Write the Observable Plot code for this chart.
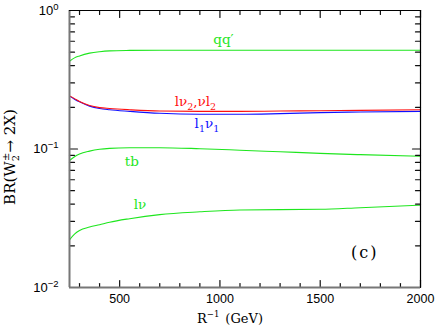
<!DOCTYPE html>
<html><head><meta charset="utf-8">
<script src="https://cdn.jsdelivr.net/npm/d3@7"></script>
<script src="https://cdn.jsdelivr.net/npm/@observablehq/plot@0.6"></script>
<style>body{margin:0;background:#fff}svg{display:block}</style>
</head><body><div id="chart"></div>
<script>
// R^-1 (GeV) sample points
const mass = [250, 275, 300, 350, 400, 450, 550, 700, 900, 1100, 1300, 1500, 1700, 2000];
// branching ratios
const brQQ    = [0.430, 0.455, 0.470, 0.492, 0.504, 0.511, 0.515, 0.517, 0.517, 0.517, 0.517, 0.517, 0.517, 0.517];
const brLnu2  = [0.242, 0.231, 0.220, 0.206, 0.199, 0.196, 0.192, 0.188, 0.187, 0.187, 0.188, 0.189, 0.190, 0.192];
const brL1nu1 = [0.241, 0.229, 0.219, 0.204, 0.196, 0.192, 0.187, 0.181, 0.178, 0.178, 0.180, 0.183, 0.185, 0.187];
const brTB    = [0.0826, 0.088, 0.092, 0.0965, 0.0995, 0.101, 0.102, 0.1022, 0.1005, 0.098, 0.0955, 0.093, 0.091, 0.0887];
const brLnu   = [0.0221, 0.0243, 0.0258, 0.0273, 0.0284, 0.0296, 0.0314, 0.0336, 0.0352, 0.0363, 0.0365, 0.0367, 0.0377, 0.0393];

const xTickLabels = [500, 1000, 1500, 2000];
const yTickValues = [1, 0.1, 0.01];
const yTickExponents = ["0", "\u22121", "\u22122"];

const W = 436, H = 329, mL = 69, mR = 16, mT = 10, mB = 42;
const iw = W - mL - mR, ih = H - mT - mB;
const GREEN = "#1ee61e", RED = "#ff1010", BLUE = "#1010ff";
const X0 = 250, X1 = 2000, Y0 = 0.01, Y1 = 1;

const xMinor = d3.range(300, 2001, 100).filter(v => v % 500 !== 0);
const yMinor = [];
for (const d of [0.01, 0.1]) for (let k = 2; k <= 9; k++) yMinor.push(+(d * k).toPrecision(3));

// inward tick segments, lengths in pixels converted to offsets along each scale
const dxPx = px => px * (X1 - X0) / iw;
const yFac = px => Math.pow(Y1 / Y0, px / ih);
const segs = [];
let sid = 0;
const addSeg = (xa, ya, xb, yb) => { sid++; segs.push({x: xa, y: ya, id: sid}, {x: xb, y: yb, id: sid}); };
for (const [vals, len] of [[yTickValues, 8], [yMinor, 5]]) for (const v of vals) {
  addSeg(X0, v, X0 + dxPx(len), v);
  addSeg(X1 - dxPx(len), v, X1, v);
}
for (const [vals, len] of [[xTickLabels, 7], [xMinor, 4]]) for (const v of vals) {
  addSeg(v, Y0, v, Y0 * yFac(len));
  addSeg(v, Y1 / yFac(len), v, Y1);
}

const rowsOf = vals => mass.map((m, i) => ({m, v: vals[i]}));

const chart = Plot.plot({
  width: W, height: H,
  marginLeft: mL, marginRight: mR, marginTop: mT, marginBottom: mB,
  style: {fontFamily: "'Liberation Sans', Arial, sans-serif", fontSize: "12.5px", background: "#fff", color: "#000"},
  x: {domain: [X0, X1], label: null},
  y: {type: "log", domain: [Y0, Y1], label: null},
  marks: [
    Plot.axisX({ticks: xTickLabels, tickSize: 0, tickPadding: 7, tickFormat: d => String(d), label: null}),
    Plot.axisY({ticks: yTickValues, tickSize: 0, tickPadding: 11,
      tickFormat: d => "10|" + yTickExponents[yTickValues.indexOf(d)], label: null}),
    Plot.lineY(rowsOf(brQQ), {x: "m", y: "v", stroke: GREEN, strokeWidth: 1.1, curve: "monotone-x"}),
    Plot.lineY(rowsOf(brTB), {x: "m", y: "v", stroke: GREEN, strokeWidth: 1.1, curve: "monotone-x"}),
    Plot.lineY(rowsOf(brLnu), {x: "m", y: "v", stroke: GREEN, strokeWidth: 1.1, curve: "monotone-x"}),
    Plot.lineY(rowsOf(brL1nu1), {x: "m", y: "v", stroke: BLUE, strokeWidth: 1.1, curve: "monotone-x"}),
    Plot.lineY(rowsOf(brLnu2), {x: "m", y: "v", stroke: RED, strokeWidth: 1.1, curve: "monotone-x"}),
    Plot.line(segs, {x: "x", y: "y", z: "id", stroke: "#111", strokeWidth: 1.2}),
    Plot.ruleX([X0], {stroke: "#777", strokeWidth: 2}),
    Plot.ruleY([Y0], {stroke: "#777", strokeWidth: 2}),
    Plot.ruleX([X1], {stroke: "#000", strokeWidth: 1.2}),
    Plot.ruleY([Y1], {stroke: "#000", strokeWidth: 1.2})
  ]
});
document.getElementById("chart").appendChild(chart);

const svg = d3.select(chart);
// superscripted y tick labels
svg.selectAll('g[aria-label="y-axis tick label"] text').each(function() {
  if (this.textContent.indexOf("|") < 0) return;
  const [base, exp] = this.textContent.split("|");
  const t = d3.select(this);
  t.text(null).style("font-size", "13px");
  t.append("tspan").text(base);
  t.append("tspan").attr("dy", "-0.5em").style("font-size", "9.5px").text(exp);
});

const sx = chart.scale("x"), sy = chart.scale("y");
const SERIF = "'DejaVu Serif', 'Liberation Serif', serif";

// curve labels anchored in data coordinates
const labelSpecs = [
  {m: 1020, v: 0.568, anchor: "middle", color: GREEN, parts: [["qq\u2032", 0]]},
  {m: 777, v: 0.204, anchor: "start", color: RED, parts: [["l\u03bd", 0], ["2", 1], [",\u03bdl", 0], ["2", 1]]},
  {m: 876, v: 0.140, anchor: "start", color: BLUE, parts: [["l", 0], ["1", 1], ["\u03bd", 0], ["1", 1]]},
  {m: 528, v: 0.0747, anchor: "start", color: GREEN, parts: [["tb", 0]]},
  {m: 573, v: 0.0368, anchor: "start", color: GREEN, parts: [["l\u03bd", 0]]}
];
for (const L of labelSpecs) {
  const t = svg.append("text").attr("x", sx.apply(L.m)).attr("y", sy.apply(L.v))
    .attr("text-anchor", L.anchor).attr("fill", L.color)
    .style("font-family", SERIF).style("font-size", "13.5px");
  let cur = 0;
  for (const [s, sub] of L.parts) {
    const target = sub ? 4 : 0;
    const sp = t.append("tspan").attr("dy", target - cur).text(s);
    if (sub) sp.style("font-size", "9.5px");
    cur = target;
  }
}
// panel tag
svg.append("text").attr("x", sx.apply(1725)).attr("y", sy.apply(0.0162))
  .attr("text-anchor", "middle").style("font-family", SERIF).style("font-size", "16px")
  .style("letter-spacing", "2px").text("(c)");

// y axis title
const yt = svg.append("text").attr("transform", "translate(15,157) rotate(-90)")
  .attr("text-anchor", "middle").style("font-family", SERIF).style("font-size", "15px");
yt.append("tspan").text("BR(W");
yt.append("tspan").attr("dy", 4).style("font-size", "10px").text("2");
yt.append("tspan").attr("dx", -6).attr("dy", -10).style("font-size", "10px").text("\u00b1");
yt.append("tspan").attr("dy", 6).text("\u2192 2X)");

// x axis title
const xt = svg.append("text").attr("x", 230).attr("y", 323)
  .attr("text-anchor", "middle").style("font-family", SERIF).style("font-size", "13px");
xt.append("tspan").text("R");
xt.append("tspan").attr("dy", -6).style("font-size", "8.5px").text("\u22121");
xt.append("tspan").attr("dy", 6).attr("dx", 6).text("(GeV)");
</script></body></html>
